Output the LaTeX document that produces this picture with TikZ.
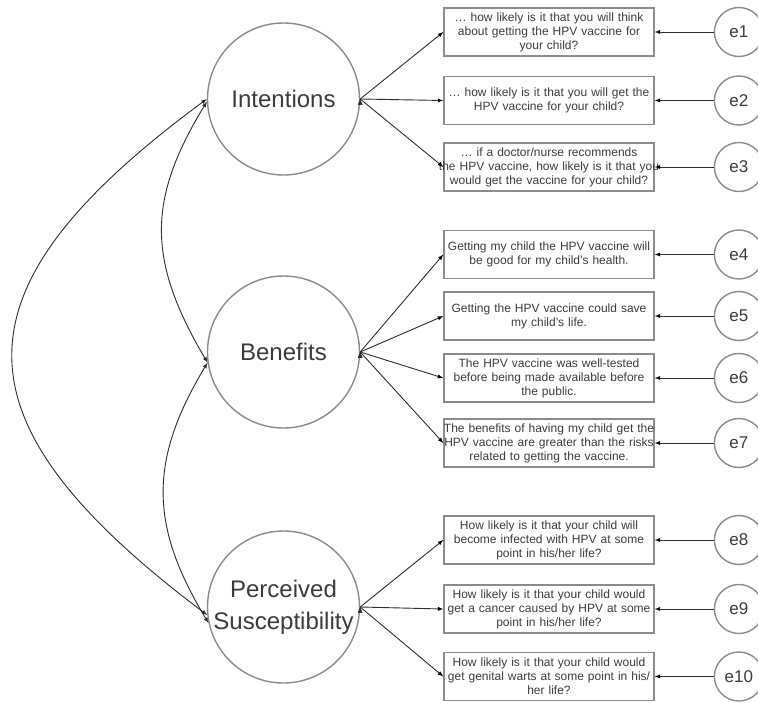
\documentclass[tikz,border=0pt]{standalone}
\usepackage{fontspec}
\setmainfont{Liberation Sans}
\usepackage{tikz}
\usetikzlibrary{arrows}
\usetikzlibrary{positioning}

\definecolor{framegray}{HTML}{8C8C8C}
\definecolor{textgray}{HTML}{3C3C3C}
\definecolor{arrowgray}{HTML}{2E2E2E}
\newcommand{\wideline}[1]{\makebox[0pt]{#1}}

\tikzset{
  latent/.style={circle, draw=framegray, line width=1.4pt, minimum size=152pt, inner sep=0pt,
    text=textgray, align=center, font=\fontsize{24}{32}\selectfont},
  item/.style={rectangle, draw=framegray, line width=1.4pt, text width=210pt, minimum height=48pt,
    inner sep=0pt, align=center, text=textgray, font=\fontsize{12}{14}\selectfont},
  err/.style={circle, draw=framegray, line width=1.4pt, minimum size=49pt, inner sep=0pt,
    text=textgray, font=\fontsize{17}{20}\selectfont},
  path/.style={draw=arrowgray, line width=0.9pt, >=latex}
}

\begin{document}
\begin{tikzpicture}[x=1pt,y=-1pt]
\useasboundingbox (0,0) rectangle (758,702);
\node[latent] (int) at (283.5,99) {Intentions};
\node[latent] (ben) at (283.5,352) {Benefits};
\node[latent] (sus) at (283.5,607) {Perceived\\Susceptibility};

\node[item] (q1) at (549,32) {\dots\ how likely is it that you will think\\about getting the HPV vaccine for\\your child?};
\node[item] (q2) at (549,100.5) {\dots\ how likely is it that you will get the\\HPV vaccine for your child?};
\node[item] (q3) at (549,167) {\dots\ if a doctor/nurse recommends\\\wideline{the HPV vaccine, how likely is it that you}\\would get the vaccine for your child?};
\node[item] (q4) at (549,254.5) {Getting my child the HPV vaccine will\\be good for my child’s health.};
\node[item] (q5) at (549,316) {Getting the HPV vaccine could save\\my child’s life.};
\node[item] (q6) at (549,378) {The HPV vaccine was well-tested\\before being made available before\\the public.};
\node[item] (q7) at (549,443) {\wideline{The benefits of having my child get the}\\\wideline{HPV vaccine are greater than the risks}\\related to getting the vaccine.};
\node[item] (q8) at (549,540) {How likely is it that your child will\\become infected with HPV at some\\point in his/her life?};
\node[item] (q9) at (549,609) {How likely is it that your child would\\get a cancer caused by HPV at some\\point in his/her life?};
\node[item] (q10) at (549,676.5) {How likely is it that your child would\\get genital warts at some point in his/\\her life?};

\foreach \i in {1,...,10} {
  \node[err, right=59pt of q\i] (e\i) {e\i};
  \path[path,->] (e\i) edge (q\i);
}
\foreach \i in {1,2,3} \path[path,->] (int.east) edge (q\i.west);
\foreach \i in {4,...,7} \path[path,->] (ben.east) edge (q\i.west);
\foreach \i in {8,9,10} \path[path,->] (sus.east) edge (q\i.west);

\path[path,<->] (int.west) .. controls (-52,290) and (-52,420) .. (sus.186);
\path[path,<->] (int.182) .. controls (147,200) and (147,260) .. (ben.188);
\path[path,<->] (ben.188) .. controls (149,460) and (149,525) .. (sus.192);
\end{tikzpicture}
\end{document}
